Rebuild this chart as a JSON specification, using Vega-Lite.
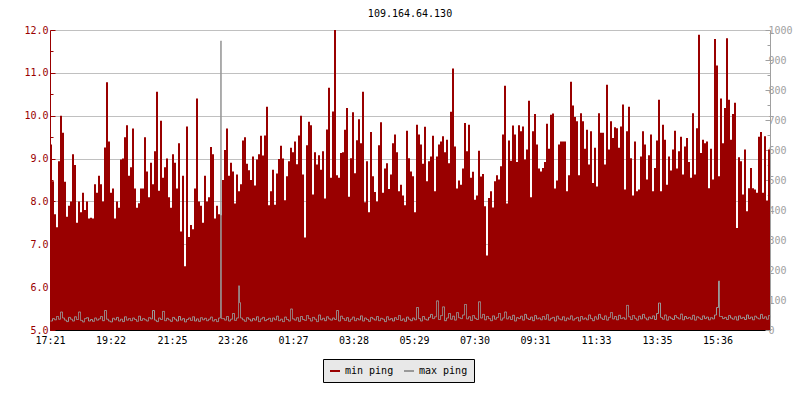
{
"$schema": "https://vega.github.io/schema/vega-lite/v6.json",
"width": 720, "height": 300,
"autosize": {"type": "none"},
"padding": {"left": 50, "top": 30, "right": 30, "bottom": 70},
"background": "white",
"title": {"text": "109.164.64.130", "font": "DejaVu Sans Mono", "fontSize": 10, "fontWeight": "normal", "color": "black", "anchor": "middle", "offset": 6},
"data": {"values": [
{"t":0,"min":9.33,"max":30},{"t":4,"min":8.47,"max":38},{"t":8,"min":7.7,"max":34},{"t":12,"min":7.4,"max":45},{"t":16,"min":8.94,"max":36},{"t":20,"min":10.0,"max":60},{"t":24,"min":9.6,"max":40},{"t":28,"min":8.46,"max":33},{"t":32,"min":7.64,"max":28},{"t":36,"min":7.9,"max":42},
{"t":40,"min":8.0,"max":36},{"t":44,"min":9.1,"max":30},{"t":48,"min":8.85,"max":44},{"t":52,"min":7.5,"max":35},{"t":56,"min":8.0,"max":60},{"t":60,"min":7.75,"max":32},{"t":64,"min":8.2,"max":27},{"t":68,"min":7.8,"max":38},{"t":72,"min":8.0,"max":41},{"t":76,"min":7.6,"max":30},
{"t":80,"min":7.62,"max":35},{"t":84,"min":7.6,"max":29},{"t":88,"min":8.4,"max":40},{"t":92,"min":8.2,"max":33},{"t":96,"min":8.6,"max":37},{"t":100,"min":8.4,"max":45},{"t":104,"min":8.0,"max":31},{"t":108,"min":9.26,"max":65},{"t":112,"min":10.78,"max":36},{"t":116,"min":9.4,"max":30},
{"t":120,"min":8.2,"max":27},{"t":124,"min":8.3,"max":39},{"t":128,"min":7.6,"max":34},{"t":132,"min":8.0,"max":42},{"t":136,"min":7.85,"max":30},{"t":140,"min":8.98,"max":36},{"t":144,"min":9.0,"max":28},{"t":148,"min":9.5,"max":44},{"t":152,"min":9.78,"max":33},{"t":156,"min":8.6,"max":38},
{"t":160,"min":8.8,"max":31},{"t":164,"min":9.7,"max":40},{"t":168,"min":8.3,"max":35},{"t":172,"min":7.85,"max":29},{"t":176,"min":7.96,"max":46},{"t":180,"min":8.3,"max":32},{"t":184,"min":8.3,"max":38},{"t":188,"min":9.5,"max":34},{"t":192,"min":8.7,"max":30},{"t":196,"min":8.1,"max":41},
{"t":200,"min":8.9,"max":37},{"t":204,"min":8.4,"max":65},{"t":208,"min":9.17,"max":33},{"t":212,"min":10.56,"max":28},{"t":216,"min":8.25,"max":40},{"t":220,"min":9.88,"max":35},{"t":224,"min":8.55,"max":62},{"t":228,"min":8.8,"max":31},{"t":232,"min":9.0,"max":39},{"t":236,"min":8.1,"max":34},
{"t":240,"min":7.85,"max":29},{"t":244,"min":9.1,"max":42},{"t":248,"min":8.9,"max":36},{"t":252,"min":8.3,"max":30},{"t":256,"min":9.36,"max":45},{"t":260,"min":7.3,"max":33},{"t":264,"min":8.6,"max":38},{"t":268,"min":6.49,"max":27},{"t":272,"min":9.75,"max":35},{"t":276,"min":7.17,"max":40},
{"t":280,"min":7.45,"max":32},{"t":284,"min":7.35,"max":44},{"t":288,"min":8.3,"max":30},{"t":292,"min":10.4,"max":37},{"t":296,"min":8.0,"max":29},{"t":300,"min":7.9,"max":41},{"t":304,"min":7.5,"max":34},{"t":308,"min":8.6,"max":39},{"t":312,"min":8.0,"max":31},{"t":316,"min":8.1,"max":36},
{"t":320,"min":9.27,"max":43},{"t":324,"min":9.1,"max":30},{"t":328,"min":7.6,"max":35},{"t":332,"min":7.9,"max":28},{"t":336,"min":7.7,"max":40},{"t":340,"min":7.68,"max":963},{"t":342,"min":7.68,"max":38},{"t":344,"min":8.5,"max":38},{"t":348,"min":9.2,"max":33},{"t":352,"min":9.7,"max":45},{"t":356,"min":8.6,"max":30},
{"t":360,"min":8.9,"max":36},{"t":364,"min":8.7,"max":55},{"t":368,"min":7.95,"max":32},{"t":372,"min":8.63,"max":40},{"t":376,"min":8.24,"max":147},{"t":378,"min":8.24,"max":91},{"t":380,"min":8.4,"max":40},{"t":384,"min":9.42,"max":34},{"t":388,"min":9.5,"max":29},{"t":392,"min":8.88,"max":41},{"t":396,"min":8.73,"max":36},
{"t":400,"min":8.5,"max":30},{"t":404,"min":9.05,"max":38},{"t":408,"min":8.37,"max":33},{"t":412,"min":8.98,"max":44},{"t":416,"min":9.1,"max":28},{"t":420,"min":9.53,"max":37},{"t":424,"min":9.07,"max":42},{"t":428,"min":9.54,"max":31},{"t":432,"min":10.21,"max":35},{"t":436,"min":7.91,"max":39},
{"t":440,"min":8.24,"max":29},{"t":444,"min":8.74,"max":40},{"t":448,"min":7.92,"max":34},{"t":452,"min":8.65,"max":46},{"t":456,"min":8.99,"max":31},{"t":460,"min":9.3,"max":36},{"t":464,"min":9.0,"max":28},{"t":468,"min":8.03,"max":43},{"t":472,"min":8.59,"max":35},{"t":476,"min":8.94,"max":30},
{"t":480,"min":9.25,"max":70},{"t":484,"min":9.15,"max":37},{"t":488,"min":9.4,"max":33},{"t":492,"min":8.87,"max":41},{"t":496,"min":9.54,"max":29},{"t":500,"min":10.0,"max":45},{"t":504,"min":8.63,"max":35},{"t":508,"min":7.16,"max":32},{"t":512,"min":9.31,"max":48},{"t":516,"min":9.86,"max":38},
{"t":520,"min":9.78,"max":30},{"t":524,"min":8.16,"max":42},{"t":528,"min":9.15,"max":36},{"t":532,"min":8.86,"max":28},{"t":536,"min":9.08,"max":50},{"t":540,"min":8.74,"max":34},{"t":544,"min":9.17,"max":39},{"t":548,"min":8.07,"max":31},{"t":552,"min":9.68,"max":44},{"t":556,"min":10.65,"max":37},
{"t":560,"min":8.55,"max":33},{"t":564,"min":10.1,"max":40},{"t":568,"min":12.0,"max":35},{"t":572,"min":8.61,"max":65},{"t":576,"min":8.55,"max":30},{"t":580,"min":9.13,"max":46},{"t":584,"min":9.15,"max":38},{"t":588,"min":9.67,"max":32},{"t":592,"min":10.18,"max":41},{"t":596,"min":8.11,"max":29},
{"t":600,"min":9.01,"max":36},{"t":604,"min":10.08,"max":43},{"t":608,"min":8.66,"max":31},{"t":612,"min":9.43,"max":38},{"t":616,"min":9.92,"max":34},{"t":620,"min":9.36,"max":47},{"t":624,"min":10.56,"max":30},{"t":628,"min":7.98,"max":40},{"t":632,"min":8.94,"max":35},{"t":636,"min":7.75,"max":29},
{"t":640,"min":9.62,"max":42},{"t":644,"min":8.59,"max":37},{"t":648,"min":8.22,"max":33},{"t":652,"min":8.0,"max":45},{"t":656,"min":9.31,"max":31},{"t":660,"min":9.85,"max":39},{"t":664,"min":8.2,"max":36},{"t":668,"min":8.77,"max":28},{"t":672,"min":8.89,"max":44},{"t":676,"min":8.29,"max":34},
{"t":680,"min":8.63,"max":38},{"t":684,"min":9.36,"max":30},{"t":688,"min":9.56,"max":41},{"t":692,"min":9.15,"max":35},{"t":696,"min":8.24,"max":48},{"t":700,"min":8.39,"max":32},{"t":704,"min":8.14,"max":37},{"t":708,"min":7.91,"max":29},{"t":712,"min":9.65,"max":43},{"t":716,"min":9.01,"max":36},
{"t":720,"min":8.7,"max":31},{"t":724,"min":8.59,"max":40},{"t":728,"min":7.75,"max":34},{"t":732,"min":9.79,"max":75},{"t":736,"min":9.56,"max":38},{"t":740,"min":9.33,"max":30},{"t":744,"min":8.88,"max":45},{"t":748,"min":9.74,"max":36},{"t":752,"min":8.47,"max":33},{"t":756,"min":8.94,"max":42},
{"t":760,"min":9.05,"max":52},{"t":764,"min":9.53,"max":38},{"t":768,"min":8.24,"max":44},{"t":772,"min":9.05,"max":97},{"t":776,"min":9.33,"max":35},{"t":780,"min":9.4,"max":48},{"t":784,"min":9.52,"max":77},{"t":788,"min":9.15,"max":31},{"t":792,"min":9.44,"max":40},{"t":796,"min":8.89,"max":55},
{"t":800,"min":10.09,"max":36},{"t":804,"min":11.1,"max":46},{"t":808,"min":9.28,"max":33},{"t":812,"min":8.3,"max":58},{"t":816,"min":8.49,"max":41},{"t":820,"min":8.39,"max":38},{"t":824,"min":8.77,"max":50},{"t":828,"min":9.83,"max":85},{"t":832,"min":9.17,"max":37},{"t":836,"min":9.79,"max":44},
{"t":840,"min":8.55,"max":32},{"t":844,"min":8.69,"max":48},{"t":848,"min":8.04,"max":39},{"t":852,"min":8.14,"max":35},{"t":856,"min":9.18,"max":94},{"t":860,"min":8.58,"max":40},{"t":864,"min":8.64,"max":52},{"t":868,"min":7.89,"max":34},{"t":872,"min":6.74,"max":45},{"t":876,"min":8.08,"max":38},
{"t":880,"min":8.24,"max":31},{"t":884,"min":7.86,"max":47},{"t":888,"min":8.47,"max":36},{"t":892,"min":8.61,"max":42},{"t":896,"min":8.51,"max":55},{"t":900,"min":8.82,"max":33},{"t":904,"min":9.56,"max":40},{"t":908,"min":10.7,"max":60},{"t":912,"min":7.95,"max":37},{"t":916,"min":9.42,"max":44},
{"t":920,"min":8.95,"max":35},{"t":924,"min":9.77,"max":49},{"t":928,"min":9.56,"max":30},{"t":932,"min":8.92,"max":41},{"t":936,"min":9.78,"max":38},{"t":940,"min":9.64,"max":46},{"t":944,"min":9.75,"max":33},{"t":948,"min":8.98,"max":52},{"t":952,"min":9.21,"max":39},{"t":956,"min":10.35,"max":35},
{"t":960,"min":8.1,"max":43},{"t":964,"min":9.64,"max":31},{"t":968,"min":10.04,"max":48},{"t":972,"min":9.33,"max":37},{"t":976,"min":8.77,"max":40},{"t":980,"min":8.7,"max":34},{"t":984,"min":8.78,"max":45},{"t":988,"min":8.92,"max":36},{"t":992,"min":9.81,"max":51},{"t":996,"min":9.23,"max":33},
{"t":1000,"min":10.02,"max":39},{"t":1004,"min":10.05,"max":42},{"t":1008,"min":8.3,"max":30},{"t":1012,"min":8.49,"max":46},{"t":1016,"min":9.33,"max":37},{"t":1020,"min":9.4,"max":34},{"t":1024,"min":9.4,"max":44},{"t":1028,"min":9.4,"max":31},{"t":1032,"min":8.24,"max":40},{"t":1036,"min":8.61,"max":36},
{"t":1040,"min":10.79,"max":47},{"t":1044,"min":10.24,"max":33},{"t":1048,"min":9.97,"max":38},{"t":1052,"min":9.87,"max":42},{"t":1056,"min":8.61,"max":30},{"t":1060,"min":10.06,"max":45},{"t":1064,"min":9.87,"max":36},{"t":1068,"min":9.23,"max":40},{"t":1072,"min":9.67,"max":34},{"t":1076,"min":8.86,"max":50},
{"t":1080,"min":9.64,"max":38},{"t":1084,"min":8.43,"max":31},{"t":1088,"min":9.25,"max":44},{"t":1092,"min":8.35,"max":36},{"t":1096,"min":10.06,"max":52},{"t":1100,"min":9.6,"max":40},{"t":1104,"min":9.6,"max":35},{"t":1108,"min":8.86,"max":47},{"t":1112,"min":10.72,"max":33},{"t":1116,"min":9.21,"max":42},
{"t":1120,"min":9.87,"max":58},{"t":1124,"min":9.48,"max":37},{"t":1128,"min":9.73,"max":45},{"t":1132,"min":9.71,"max":34},{"t":1136,"min":9.25,"max":49},{"t":1140,"min":9.75,"max":38},{"t":1144,"min":10.26,"max":41},{"t":1148,"min":8.28,"max":36},{"t":1152,"min":9.64,"max":82},{"t":1156,"min":10.21,"max":44},
{"t":1160,"min":9.01,"max":35},{"t":1164,"min":8.14,"max":48},{"t":1168,"min":9.4,"max":39},{"t":1172,"min":8.24,"max":33},{"t":1176,"min":8.28,"max":46},{"t":1180,"min":9.05,"max":37},{"t":1184,"min":9.64,"max":52},{"t":1188,"min":9.33,"max":40},{"t":1192,"min":8.51,"max":34},{"t":1196,"min":9.08,"max":43},
{"t":1200,"min":9.56,"max":38},{"t":1204,"min":8.24,"max":47},{"t":1208,"min":8.78,"max":35},{"t":1212,"min":9.42,"max":55},{"t":1216,"min":10.37,"max":90},{"t":1220,"min":8.24,"max":42},{"t":1224,"min":9.79,"max":36},{"t":1228,"min":9.44,"max":50},{"t":1232,"min":8.39,"max":33},{"t":1236,"min":9.05,"max":44},
{"t":1240,"min":8.72,"max":39},{"t":1244,"min":9.21,"max":35},{"t":1248,"min":9.65,"max":48},{"t":1252,"min":8.77,"max":41},{"t":1256,"min":9.17,"max":37},{"t":1260,"min":9.51,"max":53},{"t":1264,"min":8.63,"max":34},{"t":1268,"min":9.28,"max":45},{"t":1272,"min":9.48,"max":38},{"t":1276,"min":8.92,"max":42},
{"t":1280,"min":8.55,"max":36},{"t":1284,"min":10.06,"max":49},{"t":1288,"min":8.63,"max":33},{"t":1292,"min":9.71,"max":44},{"t":1296,"min":11.89,"max":40},{"t":1300,"min":9.13,"max":35},{"t":1304,"min":9.44,"max":47},{"t":1308,"min":9.36,"max":38},{"t":1312,"min":9.4,"max":43},{"t":1316,"min":8.31,"max":34},
{"t":1320,"min":9.23,"max":41},{"t":1324,"min":8.51,"max":37},{"t":1328,"min":11.79,"max":50},{"t":1332,"min":11.17,"max":75},{"t":1336,"min":8.59,"max":163},{"t":1338,"min":8.59,"max":45},{"t":1340,"min":10.4,"max":45},{"t":1344,"min":9.36,"max":38},{"t":1348,"min":10.18,"max":42},{"t":1352,"min":11.81,"max":35},{"t":1356,"min":10.37,"max":48},
{"t":1360,"min":9.44,"max":40},{"t":1364,"min":10.04,"max":36},{"t":1368,"min":10.3,"max":44},{"t":1372,"min":7.38,"max":33},{"t":1376,"min":9.03,"max":47},{"t":1380,"min":8.94,"max":39},{"t":1384,"min":8.16,"max":42},{"t":1388,"min":9.21,"max":35},{"t":1392,"min":7.77,"max":50},{"t":1396,"min":8.31,"max":38},
{"t":1400,"min":8.78,"max":43},{"t":1404,"min":8.31,"max":34},{"t":1408,"min":8.28,"max":46},{"t":1412,"min":8.2,"max":40},{"t":1416,"min":9.51,"max":37},{"t":1420,"min":9.62,"max":52},{"t":1424,"min":8.2,"max":39},{"t":1428,"min":9.52,"max":44},{"t":1432,"min":8.02,"max":36},{"t":1436,"min":9.21,"max":48},
{"t":1440,"min":8.1,"max":42}
]},
"encoding": {
  "x": {"field": "t", "type": "quantitative", "scale": {"domain": [0, 1440], "nice": false, "zero": false},
    "axis": {"title": null, "values": [0, 121, 244, 365, 486, 607, 728, 849, 970, 1092, 1214, 1335],
      "labelExpr": "timeFormat(datetime(2024, 0, 1, 17, 21 + datum.value), '%H:%M')",
      "labelFont": "DejaVu Sans Mono", "labelFontSize": 10, "labelColor": "black",
      "domainColor": "black", "tickColor": "black", "tickSize": -5, "labelPadding": 10,
      "grid": false, "labelFlush": false, "labelOverlap": false}}
},
"layer": [
  {"mark": {"type": "area", "interpolate": "step-after"},
   "encoding": {
     "y": {"field": "min", "type": "quantitative", "scale": {"domain": [5, 12], "nice": false, "zero": false},
       "axis": {"title": null, "values": [5, 5.5, 6, 6.5, 7, 7.5, 8, 8.5, 9, 9.5, 10, 10.5, 11, 11.5, 12],
         "labelExpr": "datum.value % 1 == 0 ? format(datum.value, '.1f') : ''",
         "labelFont": "DejaVu Sans Mono", "labelFontSize": 10, "labelColor": "#990000",
         "domainColor": "#990000", "tickColor": "#990000",
         "tickSize": {"condition": {"test": "datum.value % 1 != 0", "value": -3}, "value": -5},
         "labelPadding": 7,
         "grid": true, "gridColor": "#c0c0c0",
         "gridOpacity": {"condition": {"test": "datum.value % 1 != 0", "value": 0}, "value": 1},
         "labelOverlap": false, "labelFlush": false}},
     "y2": {"datum": 5},
     "color": {"datum": "min ping", "type": "nominal",
       "scale": {"domain": ["min ping", "max ping"], "range": ["#990000", "#999999"]},
       "legend": {"title": null, "orient": "none", "legendX": 273, "legendY": 329, "direction": "horizontal", "zindex": 2,
         "symbolType": "stroke", "symbolSize": 100, "symbolStrokeWidth": 2,
         "labelFont": "DejaVu Sans Mono", "labelFontSize": 10, "labelColor": "black", "labelOffset": 4,
         "fillColor": "#e8e8e8", "strokeColor": "black", "padding": 6, "columnPadding": 6}},
     "strokeDash": {"datum": "min ping", "type": "nominal",
       "scale": {"domain": ["max ping", "min ping"], "range": [[10, 0], [10, 0]]},
       "legend": {"title": null, "orient": "none", "legendX": 277, "legendY": 333, "direction": "horizontal", "zindex": 1,
         "symbolType": "stroke", "symbolSize": 100, "symbolStrokeWidth": 2, "symbolOpacity": 0,
         "labelFont": "DejaVu Sans Mono", "labelFontSize": 10, "labelOpacity": 0, "labelOffset": 4,
         "fillColor": "#666666", "strokeColor": "#666666", "padding": 6, "columnPadding": 6}}
   }},
  {"mark": {"type": "line", "interpolate": "step-after", "strokeWidth": 1, "xOffset": 0.5},
   "encoding": {
     "y": {"field": "max", "type": "quantitative", "scale": {"domain": [0, 1000], "nice": false},
       "axis": {"orient": "right", "title": null,
         "values": [0, 50, 100, 150, 200, 250, 300, 350, 400, 450, 500, 550, 600, 650, 700, 750, 800, 850, 900, 950, 1000],
         "labelExpr": "datum.value % 100 == 0 ? format(datum.value, 'd') : ''",
         "labelFont": "DejaVu Sans Mono", "labelFontSize": 10, "labelColor": "#a0a0a0",
         "domainColor": "#a0a0a0", "tickColor": "#a0a0a0",
         "tickSize": {"condition": {"test": "datum.value % 100 != 0", "value": -3}, "value": -5},
         "labelPadding": 3, "grid": false, "labelOverlap": false, "labelFlush": false}},
     "color": {"datum": "max ping", "type": "nominal"},
     "strokeDash": {"datum": "max ping", "type": "nominal"}
   }}
],
"resolve": {"scale": {"y": "independent"}},
"config": {"view": {"stroke": null}, "axis": {"domainWidth": 1, "tickWidth": 1}}
}
